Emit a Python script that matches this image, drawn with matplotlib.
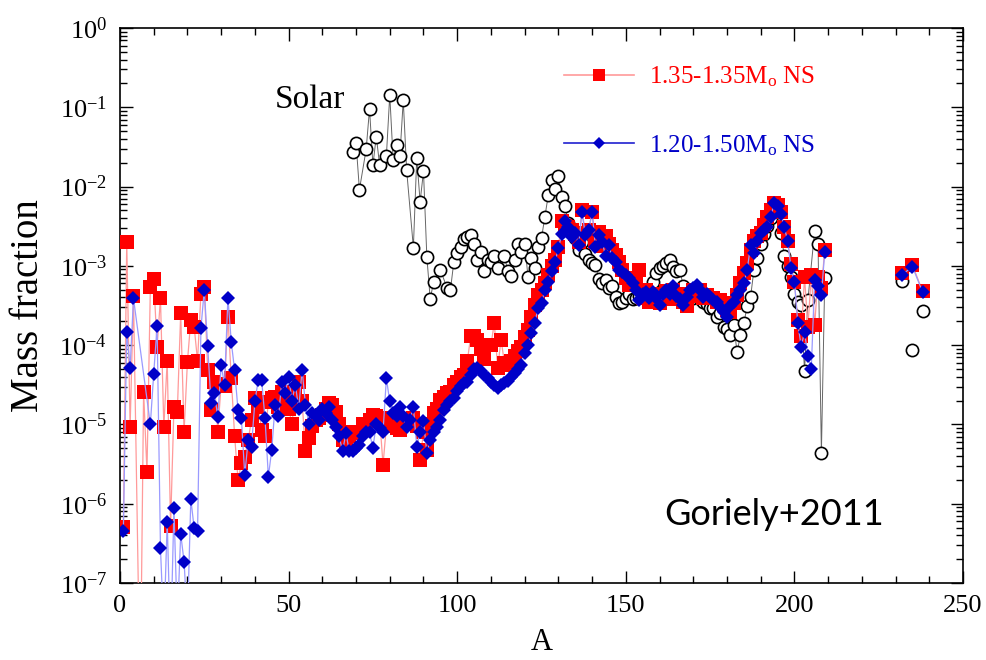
import numpy as np
import matplotlib
matplotlib.use("Agg")
import matplotlib.pyplot as plt
from matplotlib.ticker import MultipleLocator, LogLocator, NullFormatter
from matplotlib.lines import Line2D

plt.rcParams['font.family'] = ['Liberation Serif', 'DejaVu Serif']
plt.rcParams['mathtext.fontset'] = 'custom'
plt.rcParams['mathtext.rm'] = 'Liberation Serif'
plt.rcParams['mathtext.it'] = 'Liberation Serif:italic'

# --- solar mass fractions (log10) ---
solar_A = [69, 70, 71, 73, 74, 75, 76, 77, 79, 80, 81, 82, 83, 84, 85, 87, 88, 89, 90,
           91, 92, 93, 95, 97, 98, 99, 100, 101, 102, 103, 104, 105, 106, 107, 108, 109,
           110, 111, 112, 114, 115, 116, 117, 118, 119, 120, 121, 122, 123, 124, 125,
           126, 127, 128, 129, 130, 131, 132, 133, 134, 135, 136, 137, 138, 139, 140,
           141, 142, 143, 144, 145, 146, 147, 148, 149, 150, 151, 152, 153, 154, 155,
           156, 157, 158, 159, 160, 161, 162, 163, 164, 165, 166, 167, 168, 169, 170,
           171, 172, 173, 174, 175, 176, 177, 178, 179, 180, 181, 182, 183, 184, 185,
           186, 187, 188, 189, 190, 191, 192, 193, 194, 195, 196, 197, 198, 199, 200,
           201, 202, 203, 204, 206, 207, 208, 209]
solar_log = [-1.56, -1.45, -2.04, -1.53, -1.02, -1.73, -1.37, -1.73, -1.61, -0.845, -1.66,
             -1.48, -1.62, -0.91, -1.79, -2.77, -1.64, -2.19, -1.81,
             -2.89, -3.42, -3.20, -3.05, -3.28, -3.30, -2.95, -2.84, -2.76, -2.66, -2.64,
             -2.61, -2.72, -2.93, -2.82, -3.06, -2.93,
             -2.95, -2.88, -3.03, -2.88, -3.06, -3.13, -2.93, -2.72, -2.82, -2.72, -3.14,
             -2.90, -3.03, -2.76, -2.65,
             -2.38, -2.11, -1.92, -2.03, -1.87, -2.13, -2.25, -2.46, -2.55, -2.65, -2.80,
             -2.70, -2.85, -2.93, -2.97,
             -2.99, -3.16, -3.22, -3.18, -3.28, -3.26, -3.39, -3.47, -3.45, -3.40, -3.35,
             -3.42, -3.40, -3.38, -3.35,
             -3.32, -3.30, -3.20, -3.09, -3.03, -3.00, -2.97, -2.93, -3.01, -3.07, -3.05,
             -3.25, -3.35, -3.38, -3.40,
             -3.35, -3.42, -3.45, -3.48, -3.53, -3.53, -3.64, -3.60, -3.77, -3.80, -3.87,
             -3.75, -4.09, -3.87, -3.72,
             -3.51, -3.39, -3.05, -2.90, -2.72, -2.60, -2.50, -2.40, -2.30, -2.30, -2.59,
             -2.88, -3.00, -3.14, -3.35,
             -3.45, -3.50, -4.33, -3.43, -2.56, -2.72, -5.36, -3.15]
solar_act_A = [232, 235, 238]
solar_act_log = [-3.19, -4.06, -3.57]

# --- 1.35-1.35 Msun NS merger (log10) ---
ns135_A = [1, 2, 3, 4, 6, 7, 8, 9, 10, 11, 12, 13, 14, 15, 16, 17, 18, 19, 20,
           21, 22, 23, 24, 25, 26, 27, 28, 29, 30, 31, 32, 33, 34, 35, 36, 37, 38, 39, 40,
           41, 42, 43, 44, 45, 46, 47, 48, 49, 50, 51, 52, 53, 54, 55, 56, 57, 58, 59, 60,
           61, 62, 63, 64, 65, 66, 67, 68, 69, 70, 71, 72, 73, 74, 75, 76, 77, 78, 79, 80,
           81, 82, 83, 84, 85, 86, 87, 88, 89, 90, 91, 92, 93, 94, 95, 96, 97, 98, 99, 100,
           101, 102, 103, 104, 105, 106, 107, 108, 109, 110, 111, 112, 113, 114, 115, 116,
           117, 118, 119, 120, 121, 122, 123, 124, 125, 126, 127, 128, 129, 130, 131, 132,
           133, 134, 135, 136, 137, 138, 139, 140, 141, 142, 143, 144, 145, 146, 147, 148,
           149, 150, 151, 152, 153, 154, 155, 156, 157, 158, 159, 160, 161, 162, 163, 164,
           165, 166, 167, 168, 169, 170, 171, 172, 173, 174, 175, 176, 177, 178, 179, 180,
           181, 182, 183, 184, 185, 186, 187, 188, 189, 190, 191, 192, 193, 194, 195, 196,
           197, 198, 199, 200, 201, 202, 203, 204, 205, 206, 207, 208, 209]
ns135_log = [-6.29, -2.70, -5.03, -3.38, -8.5, -4.59, -5.60, -3.27, -3.17, -4.02, -3.41,
             -5.03, -4.20, -6.28, -4.78, -4.84, -3.60, -5.09, -4.21,
             -3.68, -3.77, -4.20, -3.35, -3.27, -4.31, -4.82, -4.46, -5.09, -4.49, -4.52,
             -3.64, -4.42, -5.15, -5.70, -5.49, -5.41, -5.20, -4.94, -4.67,
             -4.78, -5.07, -5.15, -4.72, -4.67, -4.65, -4.78, -4.59, -4.69, -4.80, -4.99,
             -4.62, -4.46, -4.71, -5.34, -5.17, -5.02, -4.95, -4.92, -4.88,
             -4.80, -4.73, -4.76, -4.84, -5.00, -5.20, -5.22, -5.15, -5.10, -5.11, -5.09,
             -4.99, -5.02, -4.95, -4.88, -4.90, -4.92, -5.51, -5.02, -4.92,
             -4.99, -5.05, -5.07, -5.00, -4.96, -4.95, -4.92, -5.02, -5.45, -5.09, -5.32,
             -4.99, -4.86, -4.80, -4.69, -4.65, -4.60, -4.59, -4.50, -4.46,
             -4.40, -4.38, -4.20, -3.89, -3.89, -3.93, -4.05, -4.17, -4.00, -4.00, -3.72,
             -4.29, -3.93, -4.22, -4.25, -4.20,
             -4.14, -4.08, -4.02, -3.90, -3.81, -3.64, -3.50, -3.37, -3.30, -3.22, -3.11,
             -3.00, -2.93, -2.76, -2.44, -2.50,
             -2.51, -2.55, -2.60, -2.70, -2.30, -2.59, -2.55, -2.32, -2.70, -2.57, -2.75,
             -2.62, -2.72, -2.80, -2.86, -2.95,
             -3.05, -3.15, -3.24, -3.20, -3.16, -3.05, -3.40, -3.30, -3.45, -3.35, -3.40,
             -3.47, -3.38, -3.32, -3.42, -3.30,
             -3.40, -3.36, -3.45, -3.51, -3.38, -3.30, -3.36, -3.30, -3.40, -3.37, -3.40,
             -3.41, -3.45, -3.43, -3.50, -3.56,
             -3.58, -3.47, -3.37, -3.22, -3.09, -2.97, -2.80, -2.69, -2.62, -2.59, -2.48,
             -2.38, -2.30, -2.21, -2.23, -2.32,
             -2.51, -2.69, -2.98, -3.20, -3.68, -3.89, -3.14, -3.77, -3.12, -3.75, -3.14,
             -3.28, -2.80]
ns135_act_A = [232, 235, 238]
ns135_act_log = [-3.09, -2.99, -3.32]

# --- 1.20-1.50 Msun NS merger (log10) ---
ns120_A = [1, 2, 3, 4, 9, 10, 11, 12, 13, 14, 15, 16, 17, 18, 19, 20,
           21, 22, 23, 24, 25, 26, 27, 28, 29, 30, 31, 32, 33, 34, 35, 36, 37, 38, 39, 40,
           41, 42, 43, 44, 45, 46, 47, 48, 49, 50, 51, 52, 53, 54, 55, 56, 57, 58, 59, 60,
           61, 62, 63, 64, 65, 66, 67, 68, 69, 70, 71, 72, 73, 74, 75, 76, 77, 78, 79, 80,
           81, 82, 83, 84, 85, 86, 87, 88, 89, 90, 91, 92, 93, 94, 95, 96, 97, 98, 99, 100,
           101, 102, 103, 104, 105, 106, 107, 108, 109, 110, 111, 112, 113, 114, 115, 116,
           117, 118, 119, 120, 121, 122, 123, 124, 125, 126, 127, 128, 129, 130, 131, 132,
           133, 134, 135, 136, 137, 138, 139, 140, 141, 142, 143, 144, 145, 146, 147, 148,
           149, 150, 151, 152, 153, 154, 155, 156, 157, 158, 159, 160, 161, 162, 163, 164,
           165, 166, 167, 168, 169, 170, 171, 172, 173, 174, 175, 176, 177, 178, 179, 180,
           181, 182, 183, 184, 185, 186, 187, 188, 189, 190, 191, 192, 193, 194, 195, 196,
           197, 198, 199, 200, 201, 202, 203, 204, 205, 206, 207, 208, 209]
ns120_log = [-6.35, -3.83, -4.29, -3.41, -5.00, -4.36, -3.76, -6.56, -7.6, -6.23, -7.8,
             -6.06, -7.5, -6.38, -6.73, -7.5,
             -5.94, -6.31, -6.35, -3.79, -3.30, -4.01, -4.73, -4.60, -4.91, -4.25, -4.50,
             -3.40, -3.96, -4.32, -4.82, -4.92, -5.64, -5.20, -5.28, -4.71,
             -4.44, -4.44, -4.92, -5.66, -5.32, -4.75, -4.90, -4.46, -4.60, -4.40, -4.70,
             -4.50, -4.80, -4.31, -4.75, -4.99, -4.85, -4.88, -4.95, -4.80,
             -4.85, -4.78, -4.95, -5.03, -5.15, -5.34, -5.11, -5.34, -5.34, -5.30, -5.26,
             -5.15, -5.09, -5.10, -5.30, -4.99, -5.05, -5.09, -4.42, -4.71,
             -4.85, -4.90, -4.78, -4.90, -5.03, -4.95, -4.78, -5.28, -5.10, -4.96, -5.36,
             -5.20, -5.10, -5.03, -4.95, -4.82, -4.75, -4.70, -4.67, -4.58,
             -4.52, -4.48, -4.46, -4.38, -4.30, -4.29, -4.33, -4.38, -4.42, -4.46, -4.50,
             -4.54, -4.50, -4.48, -4.45, -4.40,
             -4.35, -4.30, -4.25, -4.10, -4.00, -3.85, -3.72, -3.53, -3.47, -3.30, -3.20,
             -3.07, -2.95, -2.78, -2.60, -2.44,
             -2.51, -2.63, -2.58, -2.74, -2.32, -2.61, -2.55, -2.32, -2.76, -2.61, -2.70,
             -2.88, -2.74, -2.90, -2.95, -3.05,
             -3.08, -3.11, -3.15, -3.22, -3.30, -3.43, -3.36, -3.33, -3.40, -3.33, -3.40,
             -3.49, -3.35, -3.30, -3.35, -3.26,
             -3.38, -3.42, -3.49, -3.39, -3.30, -3.28, -3.24, -3.30, -3.39, -3.35, -3.39,
             -3.43, -3.45, -3.52, -3.58, -3.64,
             -3.51, -3.45, -3.37, -3.30, -3.22, -3.05, -2.74, -2.84, -2.69, -2.59, -2.55,
             -2.51, -2.38, -2.21, -2.25, -2.34,
             -2.51, -2.69, -3.03, -3.20, -3.72, -4.02, -3.83, -4.14, -4.30, -3.18, -3.25,
             -3.37, -2.82]
ns120_act_A = [232, 235, 238]
ns120_act_log = [-3.11, -3.01, -3.33]

RED = '#ff0000'
RED_LINE = '#ff9a9a'
BLUE = '#0000c8'
BLUE_LINE = '#9a9aff'


def to_frac(vals):
    return np.power(10.0, np.asarray(vals, dtype=float))


fig = plt.figure(figsize=(9.86, 6.6), dpi=100)
ax = fig.add_axes([0.1217, 0.1167, 0.8550, 0.8409])

solar_style = dict(color='#666666', lw=0.7, marker='o', ms=8.8, mfc='white',
                   mec='black', mew=1.2, zorder=2)
red_style = dict(color=RED_LINE, lw=0.9, marker='s', ms=9.8, mfc=RED, mec=RED,
                 mew=0, zorder=3)
blue_style = dict(color=BLUE_LINE, lw=0.9, marker='D', ms=7.4, mfc=BLUE, mec=BLUE,
                  mew=0, zorder=4)

ax.plot(solar_A, to_frac(solar_log), **solar_style)
ax.plot(solar_act_A, to_frac(solar_act_log), ls='none',
        **{k: v for k, v in solar_style.items() if k not in ('color', 'lw')})
ax.plot(ns135_A, to_frac(ns135_log), **red_style)
ax.plot(ns135_act_A, to_frac(ns135_act_log), **red_style)
ax.plot(ns120_A, to_frac(ns120_log), **blue_style)
ax.plot(ns120_act_A, to_frac(ns120_act_log), **blue_style)

ax.set_yscale('log')
ax.set_xlim(0, 250)
ax.set_ylim(1e-7, 1)

ax.xaxis.set_major_locator(MultipleLocator(50))
ax.xaxis.set_minor_locator(MultipleLocator(10))
ax.yaxis.set_major_locator(LogLocator(base=10, numticks=10))
ax.yaxis.set_minor_locator(LogLocator(base=10, subs=np.arange(2, 10), numticks=20))
ax.yaxis.set_minor_formatter(NullFormatter())
ax.tick_params(which='both', direction='in', top=True, right=True, width=1.0)
ax.tick_params(which='major', length=9, labelsize=19, pad=9)
ax.tick_params(which='minor', length=5)
for s in ax.spines.values():
    s.set_linewidth(1.2)

ax.set_xlabel('A', fontsize=22, va='baseline')
ax.set_ylabel('Mass fraction', fontsize=28)
ax.xaxis.set_label_coords(0.5, -0.121)
ax.yaxis.set_label_coords(-0.086, 0.5)

ax.text(46, 10 ** -0.91, 'Solar', fontsize=24, va='center', ha='left')
ax.text(161.5, 10 ** -6.14, 'Goriely+2011', fontsize=26, family=['Lato', 'DejaVu Sans'],
        va='center', ha='left')

handles = [
    Line2D([], [], color=RED_LINE, lw=1.2, marker='s', ms=9, mfc=RED, mec=RED, mew=0),
    Line2D([], [], color='#2020d0', lw=1.2, marker='D', ms=6.5, mfc=BLUE, mec=BLUE, mew=0),
]
labels = [r'1.35-1.35M$_{\rm o}$ NS', r'1.20-1.50M$_{\rm o}$ NS']
leg = ax.legend(handles, labels, loc='upper left', bbox_to_anchor=(0.515, 0.952),
                frameon=False, fontsize=18, handlelength=2.8, handletextpad=0.6,
                labelspacing=1.75, borderaxespad=0)
for txt, c in zip(leg.get_texts(), [RED, BLUE]):
    txt.set_color(c)

fig.savefig('out.png', dpi=100)
